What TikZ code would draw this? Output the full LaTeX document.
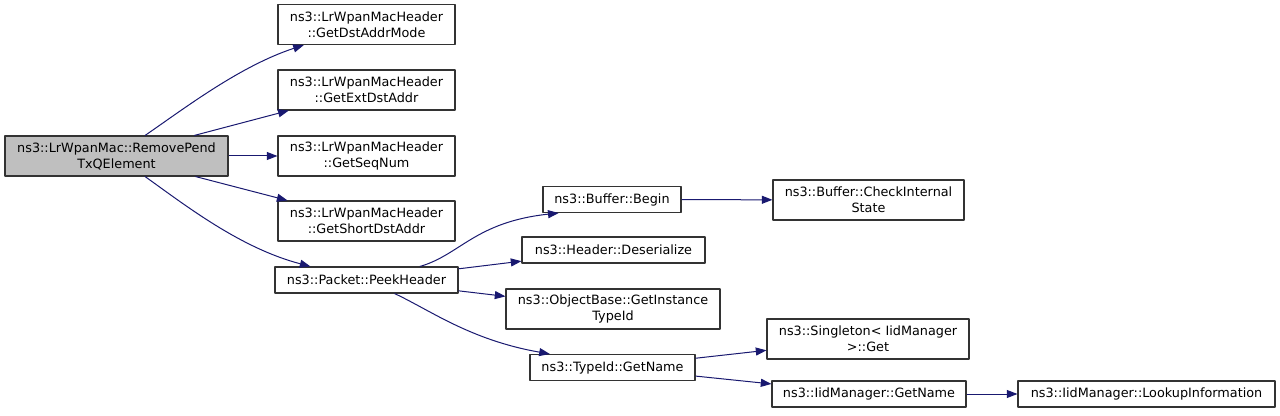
\documentclass[tikz,border=0pt]{standalone}
\usepackage{fontspec}
\setmainfont{DejaVu Sans}
\usetikzlibrary{arrows.meta}
\definecolor{edgeblue}{HTML}{191970}
\definecolor{maingray}{HTML}{BFBFBF}
\tikzset{
  fn/.style={draw=black!80, fill=white, align=center, inner sep=0pt, line width=0.8pt,
    minimum height=30pt, font=\fontsize{9.6}{12}\selectfont},
  fnone/.style={fn, minimum height=19.5pt},
  edge/.style={draw=edgeblue, line width=0.75pt, -{Triangle[length=8pt,width=6pt]}}
}
\begin{document}
\begin{tikzpicture}[x=0.75pt, y=-0.75pt, line join=round]
		\useasboundingbox (0,0) rectangle (1280,416);
		% caller
		\node[fn, fill=maingray, minimum width=167.25pt] (remove) at (116.5,156) {ns3::LrWpanMac::RemovePend\\TxQElement};
		% header getters
		\node[fn, minimum width=132.75pt] (dstmode) at (366.5,24.5) {ns3::LrWpanMacHeader\\::GetDstAddrMode};
		\node[fn, minimum width=132.75pt] (extdst) at (366.5,90) {ns3::LrWpanMacHeader\\::GetExtDstAddr};
		\node[fn, minimum width=132.75pt] (seqnum) at (366.5,156) {ns3::LrWpanMacHeader\\::GetSeqNum};
		\node[fn, minimum width=132.75pt] (shortdst) at (366.5,221) {ns3::LrWpanMacHeader\\::GetShortDstAddr};
		\node[fnone, minimum width=137.25pt] (peek) at (366.5,280) {ns3::Packet::PeekHeader};
		% second level
		\node[fnone, minimum width=103.5pt] (begin) at (612,199.5) {ns3::Buffer::Begin};
		\node[fn, minimum width=143.25pt] (check) at (868.5,200) {ns3::Buffer::CheckInternal\\State};
		\node[fnone, minimum width=137.25pt] (deser) at (613.5,250) {ns3::Header::Deserialize};
		\node[fn, minimum width=160.5pt] (instid) at (613,309) {ns3::ObjectBase::GetInstance\\TypeId};
		\node[fnone, minimum width=123.75pt] (tidname) at (612.5,367.5) {ns3::TypeId::GetName};
		\node[fn, minimum width=151.5pt] (single) at (868,339) {ns3::Singleton< IidManager\\>::Get};
		\node[fnone, minimum width=145.5pt] (iidname) at (869,394) {ns3::IidManager::GetName};
		\node[fnone, minimum width=192.75pt] (lookup) at (1146.5,394) {ns3::IidManager::LookupInformation};
		% calls
		\draw[edge] ([xshift=21.4pt]remove.north) .. controls (185,108) and (240,66) .. ([xshift=-47pt]dstmode.south);
		\draw[edge] (remove) -- (extdst);
		\draw[edge] (remove) -- (seqnum);
		\draw[edge] (remove) -- (shortdst);
		\draw[edge] ([xshift=21.4pt]remove.south) .. controls (185,205) and (240,248) .. ([xshift=-42pt]peek.north);
		\draw[edge] ([xshift=40pt]peek.north) .. controls (460,255) and (475,222) .. ([xshift=-40pt]begin.south);
		\draw[edge] (peek) -- (deser);
		\draw[edge] (peek) -- (instid);
		\draw[edge] ([xshift=21pt]peek.south) .. controls (430,310) and (470,340) .. ([xshift=-47pt]tidname.north);
		\draw[edge] (begin) -- (check);
		\draw[edge] (tidname) -- (single);
		\draw[edge] (tidname) -- (iidname);
		\draw[edge] (iidname) -- (lookup);
\end{tikzpicture}
\end{document}
